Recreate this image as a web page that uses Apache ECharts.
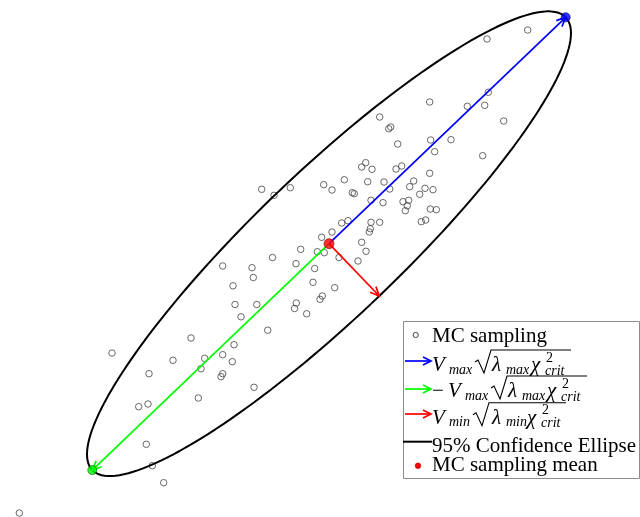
<!DOCTYPE html>
<html>
<head>
<meta charset="utf-8">
<script src="https://cdn.jsdelivr.net/npm/echarts@6/dist/echarts.min.js"></script>
<style>
html,body{margin:0;padding:0;background:#fff;}
#chart{width:640px;height:517px;}
</style>
</head>
<body>
<div id="chart"></div>
<script>
// Monte Carlo samples (data units)
const sampleX = [261.7,274,290.3,300.7,317.3,272.5,527.7,487,488.3,429.7,467.3,484.7,503.7,379.7,390.7,388.7,397.7,430.7,451,434.7,482.7,365.7,361.7,372,401.7,396,429.7,344.3,323.7,332,367.7,384,413.7,409.7,389.7,425,433,419.7,352.3,354.3,371,383,403,408.7,407.3,405.3,430.3,436.3,341.7,348,371,379.7,370.3,369.3,421.3,425.7,332,321.7,361.7,366,324.3,339,358,222.7,252,296,314.7,253.3,313,233,235,256.8,296.3,294.5,306.7,320,241,267.7,191,112,173,204.7,201,222.7,234,232.3,149,222.7,221,254,198.3,138.7,148,146.3,152.3,163.7,19.3,334.7,322.3];
const sampleY = [327.7,321.7,329.3,267.7,265.3,259.5,487,478,424.7,415,410.7,411.7,396,400,390,388.3,373,377,377.3,365.3,361.3,354.3,350,347.7,351,348,343.7,337.3,332.3,327,335.3,335,336,330.3,328,328.7,327.3,322.7,324.3,323.3,316.7,314.3,315.3,316.7,311.3,306.3,308,307.3,294,296.3,294.7,294.7,288.3,285,295.3,297,285,279.7,274.7,265.7,264.3,259.5,256,251,249.3,253.3,248.5,239.5,234.7,231.2,212.5,212.5,214,208.5,203.2,217.7,200.2,186.8,179,164,156.7,158.7,148.3,162.3,172.3,155.3,143.3,143.3,140.3,129.7,119,110.3,113,72.7,51.3,34.3,4,229.3,221];
// sampling mean
const meanXY = [329, 273.3];
// V_max*sqrt(lambda_max*chi2_crit) and V_min*sqrt(lambda_min*chi2_crit)
const vMaxScaled = [236.7, 226.4];
const vMinScaled = [50.3, -52.3];

const ellipse = [];
for (let k = 0; k <= 360; k += 2) {
  const t = k * Math.PI / 180;
  ellipse.push([meanXY[0] + Math.cos(t) * vMaxScaled[0] + Math.sin(t) * vMinScaled[0],
                meanXY[1] + Math.cos(t) * vMaxScaled[1] + Math.sin(t) * vMinScaled[1]]);
}
const tipBlue = [meanXY[0] + vMaxScaled[0], meanXY[1] + vMaxScaled[1]];
const tipGreen = [meanXY[0] - vMaxScaled[0], meanXY[1] - vMaxScaled[1]];
const tipRed = [meanXY[0] + vMinScaled[0], meanXY[1] + vMinScaled[1]];

function arrowSeries(from, to, color) {
  return {
    type: 'custom', z: 4,
    data: [[from[0], from[1], to[0], to[1]]],
    renderItem: function (params, api) {
      const p0 = api.coord([api.value(0), api.value(1)]);
      const p1 = api.coord([api.value(2), api.value(3)]);
      const a = Math.atan2(p1[1] - p0[1], p1[0] - p0[0]);
      const L = 10, h = 0.42;
      const q1 = [p1[0] - L * Math.cos(a - h), p1[1] - L * Math.sin(a - h)];
      const q2 = [p1[0] - L * Math.cos(a + h), p1[1] - L * Math.sin(a + h)];
      return {
        type: 'group',
        children: [
          {type: 'line', shape: {x1: p0[0], y1: p0[1], x2: p1[0], y2: p1[1]}, style: {stroke: color, lineWidth: 1.7}},
          {type: 'polyline', shape: {points: [q1, p1, q2]}, style: {stroke: color, lineWidth: 1.7, fill: null}}
        ]
      };
    }
  };
}

const FONT = '"Liberation Serif", "Times New Roman", serif';
function T(text, x, base, size, italic, color) {
  return {
    type: 'text', x: x, y: base - 0.22 * size, z: 100,
    style: {text: text, fill: color || '#000', font: (italic ? 'italic ' : '') + size + 'px ' + FONT,
            align: 'left', verticalAlign: 'middle', textAlign: 'left', textVerticalAlign: 'middle'}
  };
}
function radical(x0, base, xEnd) {
  return {type: 'polyline', z: 100, shape: {points: [[x0, base - 8], [x0 + 3, base - 10], [x0 + 9, base + 3], [x0 + 16, base - 20], [xEnd, base - 20]]},
          style: {stroke: '#000', lineWidth: 1.1, fill: null}};
}
function legArrow(y, color) {
  return [
    {type: 'line', z: 100, shape: {x1: 405, y1: y, x2: 431, y2: y}, style: {stroke: color, lineWidth: 1.7}},
    {type: 'polyline', z: 100, shape: {points: [[423, y - 4], [431, y], [423, y + 4]]}, style: {stroke: color, lineWidth: 1.7, fill: null}}
  ];
}
function mathRow(dx, base, sub, overEnd) {
  const s = 14;
  const els = [];
  els.push(T('V', 432 + dx, base, 21, true));
  els.push(T(sub, 449 + dx, base + 3, s, true));
  els.push(radical(475 + dx - (sub === 'min' ? 2 : 0), base, overEnd));
  const lx = 492 + dx;
  els.push(T('λ', lx, base, 21, true));
  els.push(T(sub, lx + 14, base + 3, s, true));
  const cx = lx + (sub === 'min' ? 35 : 39);
  els.push(T('χ', cx, base, 21, true));
  els.push(T('2', cx + 15, base - 9, s, false));
  els.push(T('crit', cx + 14, base + 4, s, true));
  return els;
}

const legend = [].concat(
  [{type: 'rect', z: 99, shape: {x: 403.5, y: 321.5, width: 236, height: 157}, style: {fill: '#fff', stroke: '#8c8c8c', lineWidth: 1}}],
  [{type: 'circle', z: 100, shape: {cx: 415.7, cy: 335, r: 2.6}, style: {fill: 'none', stroke: '#444', lineWidth: 1}}],
  [T('MC sampling', 432, 341, 21, false)],
  legArrow(361, '#0000ff'),
  mathRow(0, 370, 'max', 571),
  legArrow(389, '#00ff00'),
  [T('−', 432, 396, 21, false)],
  mathRow(16, 396, 'max', 587),
  legArrow(414, '#ff0000'),
  mathRow(0, 422.7, 'min', 566),
  [{type: 'line', z: 100, shape: {x1: 403, y1: 441.7, x2: 432, y2: 441.7}, style: {stroke: '#000', lineWidth: 2}}],
  [T('95% Confidence Ellipse', 432, 451, 21, false)],
  [{type: 'circle', z: 100, shape: {cx: 418, cy: 465.7, r: 2.8}, style: {fill: '#ff0000', stroke: '#aa0000', lineWidth: 0.6}}],
  [T('MC sampling mean', 432, 470, 21, false)]
);

const chart = echarts.init(document.getElementById('chart'), null, {renderer: 'canvas'});
chart.setOption({
  animation: false,
  backgroundColor: '#fff',
  grid: {left: 0, right: 0, top: 0, bottom: 0},
  xAxis: {type: 'value', min: 0, max: 640, show: false},
  yAxis: {type: 'value', min: 0, max: 517, show: false},
  series: [
    {type: 'scatter', name: 'MC sampling', z: 2, symbol: 'circle', symbolSize: 6.5,
     data: sampleX.map((x, i) => [x, sampleY[i]]),
     itemStyle: {color: 'rgba(255,255,255,0)', borderColor: '#444', borderWidth: 1}},
    {type: 'line', name: '95% Confidence Ellipse', z: 3, data: ellipse, showSymbol: false, smooth: false,
     lineStyle: {color: '#000', width: 2}},
    arrowSeries(meanXY, tipBlue, '#0000ff'),
    arrowSeries(meanXY, tipGreen, '#00ff00'),
    arrowSeries(meanXY, tipRed, '#ff0000'),
    {type: 'scatter', z: 5, symbolSize: 9, data: [tipBlue], itemStyle: {color: '#0000ff', borderColor: '#00007a', borderWidth: 0.8}},
    {type: 'scatter', z: 5, symbolSize: 9, data: [tipGreen], itemStyle: {color: '#00ff00', borderColor: '#005500', borderWidth: 0.8}},
    {type: 'scatter', name: 'MC sampling mean', z: 6, symbolSize: 10, data: [meanXY], itemStyle: {color: '#ff0000', borderColor: '#7a0000', borderWidth: 0.8}}
  ],
  graphic: legend
});
</script>
</body>
</html>
